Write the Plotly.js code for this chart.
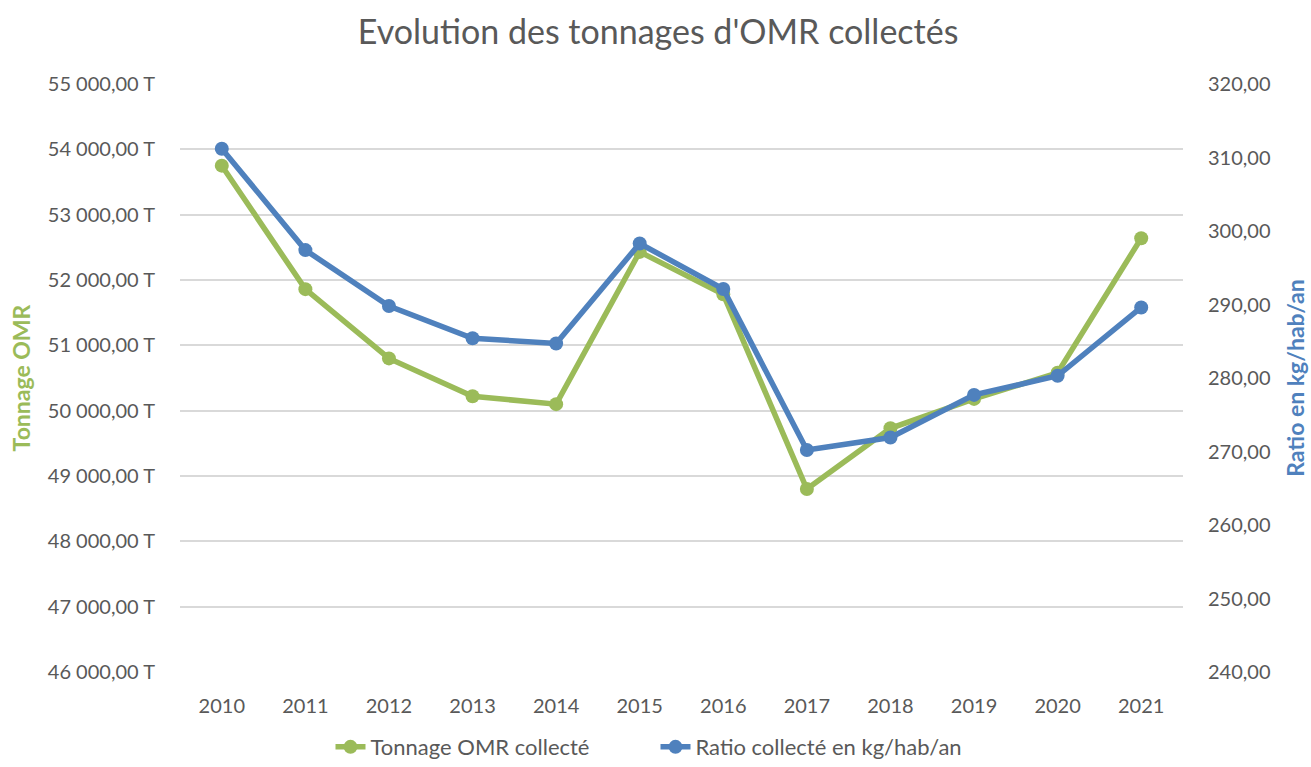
<!DOCTYPE html>
<html>
<head>
<meta charset="utf-8">
<script src="https://cdn.plot.ly/plotly-3.0.1.min.js"></script>
<style>html,body{margin:0;padding:0;background:#fff;}#chart{width:1311px;height:767px;}</style>
</head>
<body>
<div id="chart"></div>
<script>
const years = ['2010','2011','2012','2013','2014','2015','2016','2017','2018','2019','2020','2021'];
const tonnage = [53750, 51860, 50800, 50220, 50100, 52430, 51780, 48800, 49730, 50180, 50580, 52640];
const ratio = [311.2, 297.4, 289.8, 285.4, 284.7, 298.3, 292.1, 270.2, 271.9, 277.7, 280.3, 289.6];
const seriesNames = ['Tonnage OMR collecté', 'Ratio collecté en kg/hab/an'];

const FONT = 'Lato, "Open Sans", sans-serif';
const green = '#9BBB59', blue = '#4F81BD', grey = '#595959';

const traces = [
  {x: years, y: tonnage, name: seriesNames[0], type: 'scatter', mode: 'lines+markers',
   line: {color: green, width: 5.5}, marker: {color: green, size: 14}, yaxis: 'y', hoverinfo: 'skip'},
  {x: years, y: ratio, name: seriesNames[1], type: 'scatter', mode: 'lines+markers',
   line: {color: blue, width: 5.5}, marker: {color: blue, size: 14}, yaxis: 'y2', hoverinfo: 'skip'}
];

const layout = {
  width: 1311, height: 767,
  paper_bgcolor: '#fff', plot_bgcolor: '#fff',
  separators: ', ',
  margin: {l: 180, r: 128, t: 84, b: 95},
  font: {family: FONT, color: grey, size: 20},
  title: {text: "Evolution des tonnages d'OMR collectés", font: {family: FONT, size: 34, color: grey},
          x: 0.502, xref: 'container', xanchor: 'center', y: 0.958, yanchor: 'middle'},
  xaxis: {type: 'category', range: [-0.5, 11.5], showgrid: false, zeroline: false, showline: false,
          ticks: '', ticklabelstandoff: 20, tickfont: {size: 20, color: grey}},
  yaxis: {range: [46000, 55000], dtick: 1000, tick0: 46000, tickformat: ',.2f', ticksuffix: ' T',
          showgrid: true, gridcolor: '#D9D9D9', gridwidth: 2, zeroline: false, showline: false,
          ticks: '', ticklabelstandoff: 24, tickfont: {size: 20, color: grey},
          title: {text: 'Tonnage OMR', font: {size: 23, color: green, family: FONT, weight: 'bold'}, standoff: 10}},
  yaxis2: {range: [240, 320], dtick: 10, tick0: 240, tickformat: '.2f', overlaying: 'y', side: 'right',
           showgrid: false, zeroline: false, showline: false, ticks: '', ticklabelstandoff: 24,
           tickfont: {size: 20, color: grey},
           title: {text: 'Ratio en kg/hab/an', font: {size: 23, color: blue, family: FONT, weight: 'bold'}, standoff: 18}},
  showlegend: true,
  legend: {orientation: 'h', x: 0.5, xref: 'container', xanchor: 'center', y: 0.026, yref: 'container', yanchor: 'middle',
           font: {size: 22, color: grey}, entrywidth: 280, traceorder: 'normal'}
};

Plotly.newPlot('chart', traces, layout, {displayModeBar: false, staticPlot: true});
</script>
</body>
</html>
